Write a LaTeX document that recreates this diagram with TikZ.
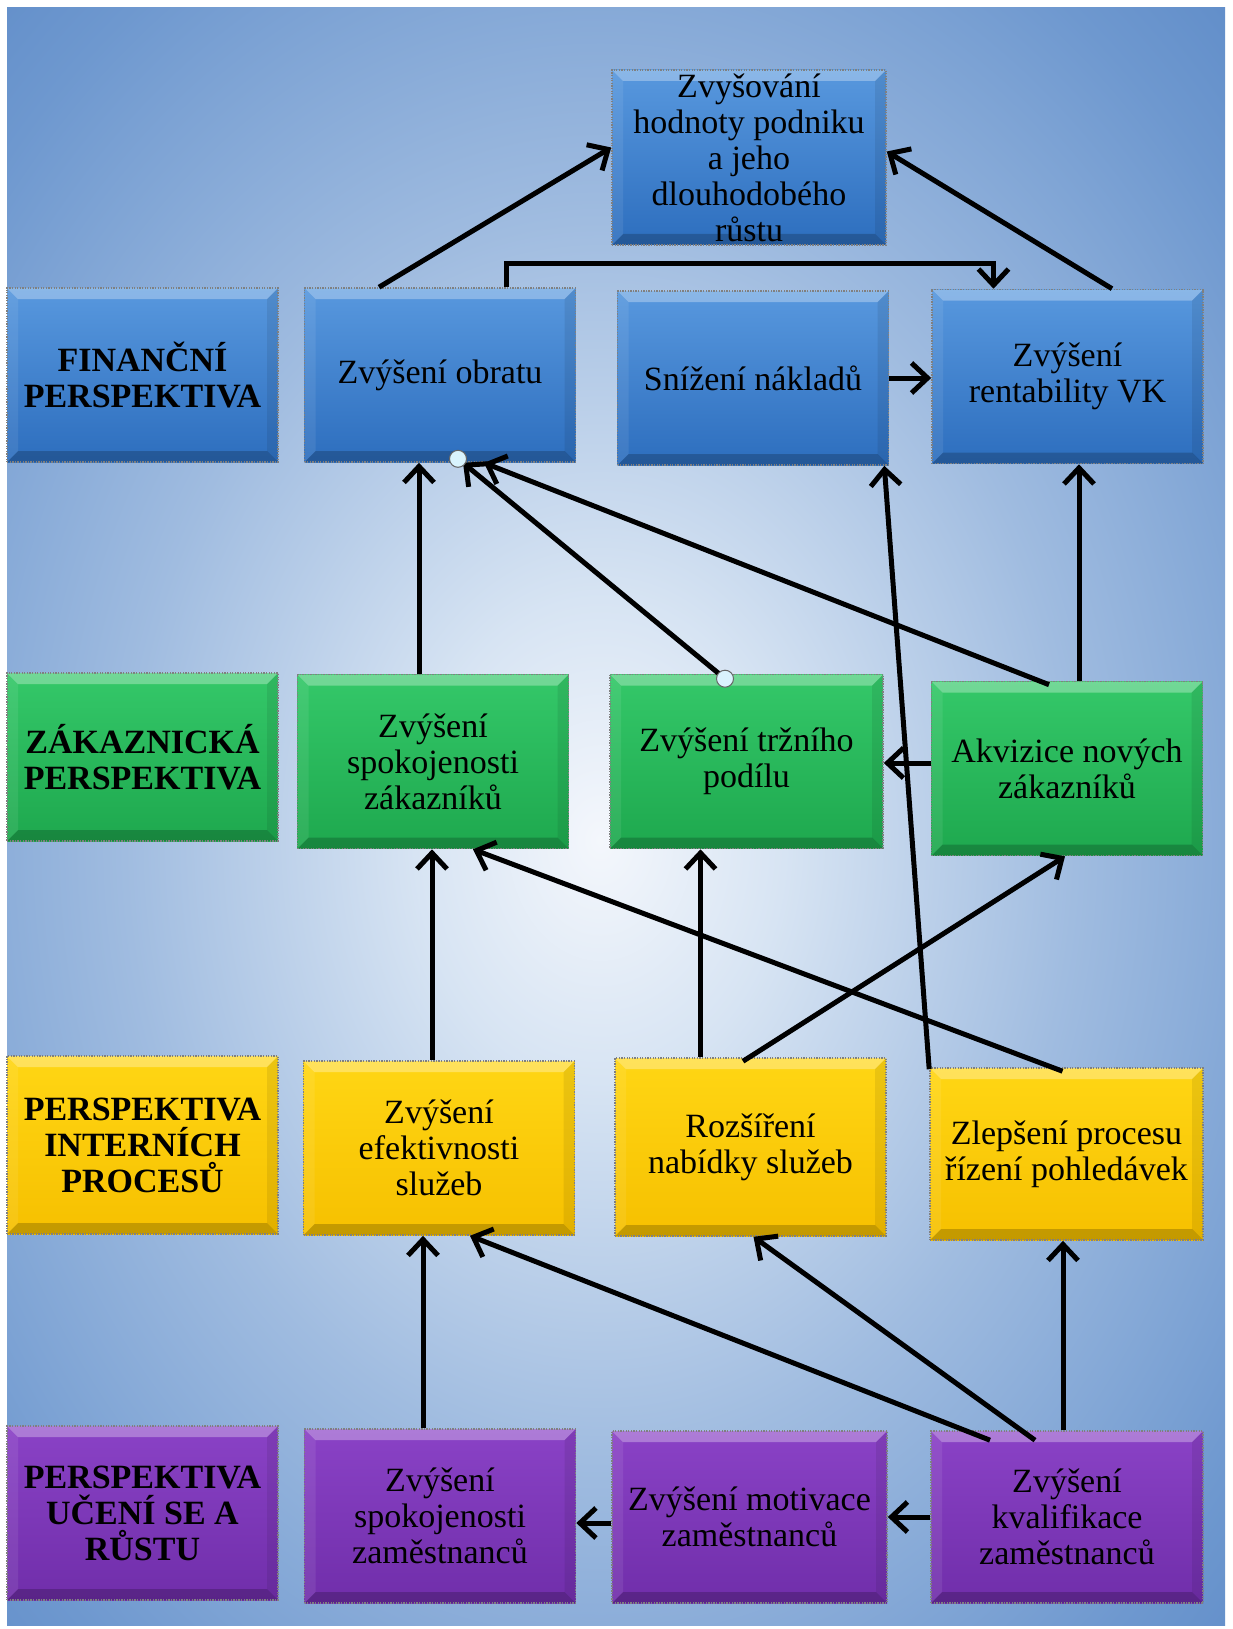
\documentclass[tikz,border=0pt]{standalone}
\usepackage{fontspec}
\setmainfont{Liberation Serif}
\usetikzlibrary{arrows.meta,calc}
\definecolor{bgA}{RGB}{244,247,252}
\definecolor{bgB}{RGB}{215,228,243}
\definecolor{bgC}{RGB}{160,188,224}
\definecolor{bgD}{RGB}{110,152,207}
\definecolor{bgE}{RGB}{80,128,193}
\definecolor{bgF}{RGB}{70,118,188}
\definecolor{bTop}{RGB}{88,152,222}
\definecolor{bBot}{RGB}{45,110,190}
\definecolor{gTop}{RGB}{52,200,105}
\definecolor{gBot}{RGB}{30,168,78}
\definecolor{yTop}{RGB}{255,214,20}
\definecolor{yBot}{RGB}{246,192,0}
\definecolor{pTop}{RGB}{138,66,198}
\definecolor{pBot}{RGB}{112,46,170}
\pgfdeclareradialshading{bgrad}{\pgfpoint{0bp}{0bp}}{color(0bp)=(bgA); color(7bp)=(bgB); color(18bp)=(bgC); color(30bp)=(bgD); color(40bp)=(bgE); color(50bp)=(bgF); color(72bp)=(bgF)}
\begin{document}
\begin{tikzpicture}[x=1pt,y=-1pt,
  bevel/.style={path picture={
    \fill[white,opacity=.30] (path picture bounding box.north west) -- (path picture bounding box.north east) -- ([xshift=-11pt,yshift=-11pt]path picture bounding box.north east) -- ([xshift=11pt,yshift=-11pt]path picture bounding box.north west) -- cycle;
    \fill[black,opacity=.20] (path picture bounding box.south west) -- (path picture bounding box.south east) -- ([xshift=-11pt,yshift=11pt]path picture bounding box.south east) -- ([xshift=11pt,yshift=11pt]path picture bounding box.south west) -- cycle;
    \fill[black,opacity=.08] (path picture bounding box.north east) -- (path picture bounding box.south east) -- ([xshift=-11pt,yshift=11pt]path picture bounding box.south east) -- ([xshift=-11pt,yshift=-11pt]path picture bounding box.north east) -- cycle;
    \fill[white,opacity=.08] (path picture bounding box.north west) -- (path picture bounding box.south west) -- ([xshift=11pt,yshift=11pt]path picture bounding box.south west) -- ([xshift=11pt,yshift=-11pt]path picture bounding box.north west) -- cycle;
  }},
  box/.style={rectangle, minimum width=271pt, minimum height=174pt, inner sep=0pt, align=center,
    font=\fontsize{34}{36}\selectfont, text=black, draw=black!50, dash pattern=on 1.3pt off 1.3pt,
    line width=1.6pt, bevel},
  lab/.style={font=\fontsize{34}{36}\selectfont\bfseries},
  bluebox/.style={box, top color=bTop, bottom color=bBot},
  greenbox/.style={box, top color=gTop, bottom color=gBot},
  yellowbox/.style={box, top color=yTop, bottom color=yBot},
  purplebox/.style={box, top color=pTop, bottom color=pBot},
  arr/.style={draw=black, line width=5pt, -{Straight Barb[length=16pt,width=30pt]}},
  glue/.style={fill=white!85!cyan, draw=black!60, line width=1pt}
]
\useasboundingbox (0,0) rectangle (1232,1629);
\fill[white] (0,0) rectangle (1232,1629);
\begin{scope}
\clip (7,8) rectangle (1225,1625);
\shade[shading=bgrad] (-60,-20) rectangle (1260,1700);
\end{scope}

% top
\node[bluebox, minimum width=274pt, minimum height=175pt] (top) at (749,157.5) {Zvyšování\\hodnoty podniku\\a jeho\\dlouhodobého\\růstu};
% row 1
\node[bluebox, lab] (fin) at (142.5,375) {FINANČNÍ\\PERSPEKTIVA};
\node[bluebox] (obr) at (440,375) {Zvýšení obratu};
\node[bluebox] (sni) at (753,378) {Snížení nákladů};
\node[bluebox] (ren) at (1067.5,376.5) {Zvýšení\\rentability VK};
% row 2
\node[greenbox, lab, minimum height=168pt] (zak) at (142.5,757) {ZÁKAZNICKÁ\\PERSPEKTIVA};
\node[greenbox] (spz) at (433,761.5) {Zvýšení\\spokojenosti\\zákazníků};
\node[greenbox, minimum width=273pt] (trz) at (746.5,761.5) {Zvýšení tržního\\podílu};
\node[greenbox] (akv) at (1067,768.5) {Akvizice nových\\zákazníků};
% row 3
\node[yellowbox, lab, minimum height=178pt] (int) at (142.5,1145) {PERSPEKTIVA\\INTERNÍCH\\PROCESŮ};
\node[yellowbox] (efe) at (439,1148) {Zvýšení\\efektivnosti\\služeb};
\node[yellowbox, minimum height=178pt] (roz) at (750.5,1147) {Rozšíření\\nabídky služeb};
\node[yellowbox, minimum width=273pt, minimum height=172pt] (zle) at (1066.5,1154) {Zlepšení procesu\\řízení pohledávek};
% row 4
\node[purplebox, lab] (uce) at (142.5,1513) {PERSPEKTIVA\\UČENÍ SE A\\RŮSTU};
\node[purplebox] (szm) at (440,1516) {Zvýšení\\spokojenosti\\zaměstnanců};
\node[purplebox, minimum width=275pt, minimum height=172pt] (mot) at (749.5,1517) {Zvýšení motivace\\zaměstnanců};
\node[purplebox, minimum width=272pt, minimum height=172pt] (kva) at (1067,1517) {Zvýšení\\kvalifikace\\zaměstnanců};

% connectors
\draw[arr] ($(obr.north)+(-61,0)$) -- ($(top.west)+(0,-10)$);
\draw[arr] ($(ren.north)+(44.5,0)$) -- ($(top.east)+(0,-6)$);
\draw[arr] ($(obr.north)+(66,0)$) -- ++(0,-23.5) -| ($(ren.north)+(-74,0)$);
\draw[arr] (sni.east) -- (ren.west |- sni.east);
\draw[arr] ($(spz.north)+(-14,0)$) coordinate (a5) -- (a5 |- obr.south);
\draw[arr] ($(trz.north)+(-21.5,5)$) coordinate (c1) -- ($(obr.south)+(23,0)$);
\draw[arr] ($(akv.north)+(-18,4)$) -- ($(obr.south)+(44,0)$);
\draw[arr] ($(akv.north)+(12,0)$) coordinate (a8) -- (a8 |- ren.south);
\draw[arr] ($(akv.west)+(0,-5.5)$) -- ($(trz.east)+(0,1.5)$);
\draw[arr] ($(zle.north west)+(0,2)$) -- ($(sni.south east)+(-5,0)$);
\draw[arr] ($(efe.north)+(-7,0)$) coordinate (a11) -- (a11 |- spz.south);
\draw[arr] ($(roz.north)+(-50,0)$) coordinate (a12) -- (a12 |- trz.south);
\draw[arr] ($(roz.north)+(-7.5,4)$) -- ($(akv.south)+(-2,0)$);
\draw[arr] ($(zle.north)+(-4,4)$) -- ($(spz.south)+(40,0)$);
\draw[arr] ($(szm.north)+(-17,0)$) coordinate (a15) -- (a15 |- efe.south);
\draw[arr] ($(kva.north)+(-77,10)$) -- ($(efe.south)+(31,0)$);
\draw[arr] ($(kva.north)+(-32,10)$) -- ($(roz.south)+(3,0)$);
\draw[arr] ($(kva.north)+(-4,0)$) coordinate (a18) -- (a18 |- zle.south);
\draw[arr] (kva.west) -- (mot.east);
\draw[arr] ($(mot.west)+(0,6)$) coordinate (a20) -- (a20 -| szm.east);
% glue points
\draw[glue] (c1) circle (8.5);
\draw[glue] ($(obr.south)+(18,-4)$) circle (8.5);
\end{tikzpicture}
\end{document}
